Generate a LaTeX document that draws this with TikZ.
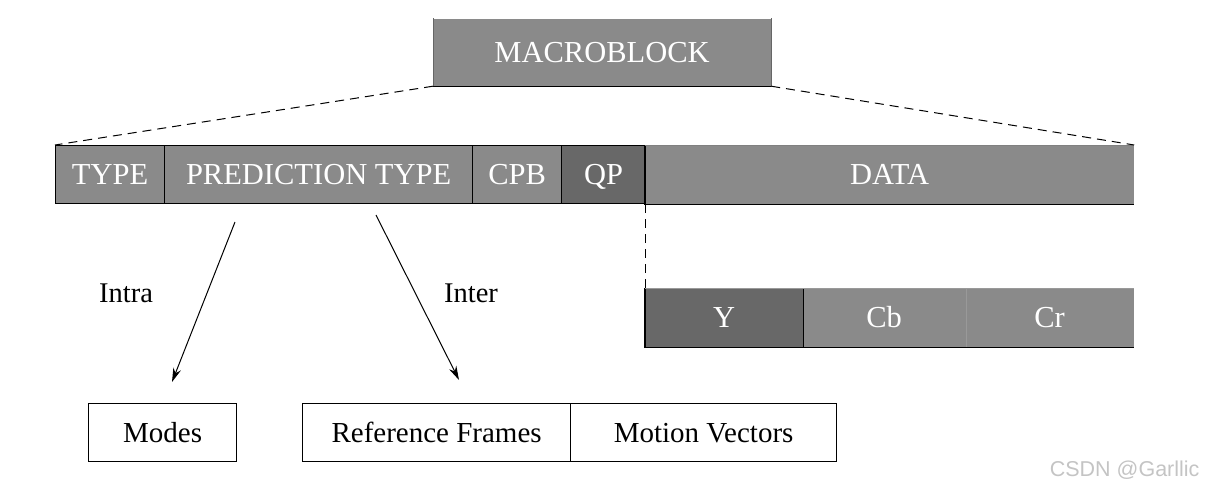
\documentclass[tikz,border=0pt]{standalone}
\usepackage{fontspec}
\setmainfont{Liberation Serif}
\newfontfamily\wmfont{Liberation Sans}
\usetikzlibrary{arrows.meta}
\definecolor{cellgray}{HTML}{8A8A8A}
\definecolor{celldark}{HTML}{686868}
\definecolor{wmgray}{HTML}{C4C4C4}
\begin{document}
\begin{tikzpicture}[x=1pt,y=-1pt,
  cell/.style={fill=cellgray,draw=black,line width=1.2pt,anchor=north west,inner sep=0pt,minimum height=58pt,text=white,font=\fontsize{30.5}{33}\selectfont,text height=20pt,text depth=0pt},
  darkcell/.style={cell,fill=celldark},
  wbox/.style={draw=black,line width=1.2pt,anchor=north west,inner sep=0pt,minimum height=58pt,font=\fontsize{29}{32}\selectfont,text height=19.5pt,text depth=0pt},
  lbl/.style={font=\fontsize{28.5}{31}\selectfont},
  dashline/.style={dashed,dash pattern=on 9pt off 6pt,line width=1pt},
  arr/.style={line width=1pt,-{Stealth[length=14pt,width=8pt]}}
]
\useasboundingbox (0,0) rectangle (1207,490);
\node[cell,minimum width=337pt,minimum height=67pt,draw=none] (mb) at (433,18) {MACROBLOCK};
\draw[line width=1.2pt] (mb.south west) -- (mb.south east);
\draw[line width=1pt,black!60] (mb.north west) -- (mb.south west) (mb.north east) -- (mb.south east);
% main row
\node[cell,minimum width=109pt] (type) at (55,145) {TYPE};
\node[cell,minimum width=308pt] (pred) at (164,145) {PREDICTION TYPE};
\node[cell,minimum width=89pt] (cpb) at (472,145) {CPB};
\node[darkcell,minimum width=84pt] (qp) at (561,145) {QP};
\node[cell,minimum width=488pt,draw=none] (data) at (645,145) {DATA};
\draw[line width=1.2pt] (data.north west) -- (data.south west) -- (data.south east);
\draw[line width=0.8pt,black!50] (data.north west) -- (data.north east);
% dashed connectors
\draw[dashline] (mb.south west) -- (type.north west);
\draw[dashline] (mb.south east) -- (data.north east);
% data breakdown
\node[darkcell,minimum width=157pt,draw=none] (y) at (645,288) {Y};
\node[cell,minimum width=163pt,draw=none] (cb) at (802,288) {Cb};
\node[cell,minimum width=168pt,draw=none] (cr) at (965,288) {Cr};
\draw[line width=1.2pt] (y.north west) -- (y.south west) -- (cr.south east);
\draw[line width=1.2pt] (y.north east) -- (y.south east);
\draw[line width=0.6pt,black!40] (cb.north east) -- (cb.south east);
\draw[line width=0.6pt,black!40] (y.north west) -- (cr.north east);
\draw[dashline] (data.south west) -- (y.north west);
% bottom boxes
\node[wbox,minimum width=148pt] (modes) at (88,403) {Modes};
\node[wbox,minimum width=268pt] (ref) at (302,403) {Reference Frames};
\node[wbox,minimum width=266pt] (mv) at (570,403) {Motion Vectors};
% arrows
\coordinate (a1s) at (235,222);
\coordinate (a1e) at (172,382);
\coordinate (a2s) at (376,215);
\coordinate (a2e) at (459,380);
\draw[arr] (a1s) -- (a1e);
\draw[arr] (a2s) -- (a2e);
\node[lbl] (intra) at (126,293) {Intra};
\node[lbl] (inter) at (471,293) {Inter};
% watermark
\node[text=wmgray,font=\wmfont\fontsize{21.5}{24}\selectfont,anchor=east] (wm) at (1203,470) {CSDN @Garllic};
\end{tikzpicture}
\end{document}
